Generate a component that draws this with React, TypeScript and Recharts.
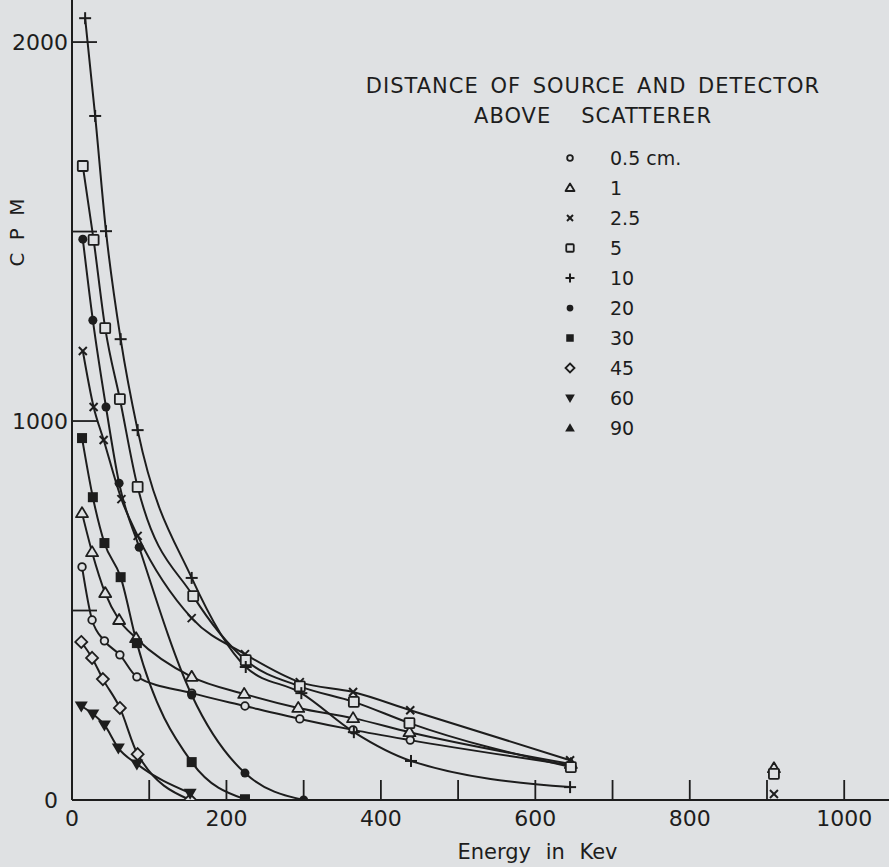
import React from 'react';
import { ComposedChart, Line, Scatter, XAxis, YAxis, Legend } from 'recharts';

// ---- data (Energy in keV, CPM) ----
const E_05 = [13, 26, 42, 62, 84, 155, 224, 295, 364, 438, 645];
const CPM_05 = [615, 475, 420, 383, 325, 282, 248, 214, 185, 158, 92];

const E_1 = [13, 26, 43, 61, 83, 155, 223, 293, 364, 437, 646];
const CPM_1 = [757, 654, 546, 475, 427, 325, 280, 243, 216, 179, 95];

const E_25 = [14, 28, 41, 64, 85, 155, 224, 295, 364, 438, 645];
const CPM_25 = [1185, 1037, 950, 794, 697, 480, 385, 311, 285, 237, 105];

const E_5 = [14, 28, 43, 62, 85, 157, 225, 295, 365, 437, 646];
const CPM_5 = [1673, 1478, 1245, 1058, 826, 538, 369, 300, 259, 203, 87];

const E_10 = [17, 30, 44, 63, 85, 155, 225, 297, 365, 439, 645];
const CPM_10 = [2063, 1805, 1501, 1216, 976, 586, 351, 282, 179, 103, 34];

const E_20 = [14, 27, 44, 61, 87, 155, 224, 300];
const CPM_20 = [1480, 1266, 1037, 836, 667, 277, 71, 0];

const E_30 = [13, 27, 42, 63, 84, 155, 224];
const CPM_30 = [955, 799, 678, 588, 414, 100, 2];

const E_45 = [12, 26, 40, 62, 85, 153];
const CPM_45 = [417, 375, 319, 243, 121, 0];

const E_60 = [12, 27, 42, 60, 84, 153];
const CPM_60 = [248, 227, 198, 137, 95, 18];

const E_90: number[] = [];
const CPM_90: number[] = [];

// isolated points near 906 keV (not joined to curves)
const FAR_KINDS = ['triangle', 'square', 'x'];
const FAR_E = [909, 909, 909];
const FAR_CPM = [84, 69, 16];

const LEGEND_LABELS = ['0.5 cm.', '1', '2.5', '5', '10', '20', '30', '45', '60', '90'];
const KINDS = ['circle', 'triangle', 'x', 'square', 'plus', 'dot', 'fsquare', 'diamond', 'down', 'up'];

const X_TICKS = [0, 100, 200, 300, 400, 500, 600, 700, 800, 900, 1000];
const X_LABELED = [0, 200, 400, 600, 800, 1000];
const Y_TICKS = [0, 500, 1000, 1500, 2000];
const Y_LABELED = [0, 1000, 2000];

const TITLE_1 = 'DISTANCE OF SOURCE AND DETECTOR';
const TITLE_2A = 'ABOVE';
const TITLE_2B = 'SCATTERER';

// ---- styling ----
const BG = '#dfe1e3';
const INK = '#1d1d1d';
const FONT = '"DejaVu Sans", sans-serif';

const toPts = (e: number[], c: number[]) => e.map((x, i) => ({ x, y: c[i] }));

const SERIES = [
  toPts(E_05, CPM_05),
  toPts(E_1, CPM_1),
  toPts(E_25, CPM_25),
  toPts(E_5, CPM_5),
  toPts(E_10, CPM_10),
  toPts(E_20, CPM_20),
  toPts(E_30, CPM_30),
  toPts(E_45, CPM_45),
  toPts(E_60, CPM_60),
  toPts(E_90, CPM_90),
];

function Marker({ kind, cx, cy, s = 1 }: { kind: string; cx: number; cy: number; s?: number }) {
  if (cx == null || cy == null || isNaN(cx) || isNaN(cy)) return null;
  const sw = 1.8;
  switch (kind) {
    case 'circle':
      return <circle cx={cx} cy={cy} r={3.8 * s} fill={BG} stroke={INK} strokeWidth={sw} />;
    case 'triangle': {
      const h = 10 * s, w = 12 * s;
      return (
        <polygon
          points={`${cx},${cy - h * 0.6} ${cx - w / 2},${cy + h * 0.4} ${cx + w / 2},${cy + h * 0.4}`}
          fill={BG} stroke={INK} strokeWidth={sw} strokeLinejoin="round"
        />
      );
    }
    case 'x': {
      const d = 4 * s;
      return (
        <g stroke={INK} strokeWidth={2}>
          <line x1={cx - d} y1={cy - d} x2={cx + d} y2={cy + d} />
          <line x1={cx - d} y1={cy + d} x2={cx + d} y2={cy - d} />
        </g>
      );
    }
    case 'square': {
      const d = 5 * s;
      return <rect x={cx - d} y={cy - d} width={2 * d} height={2 * d} rx={1} fill={BG} stroke={INK} strokeWidth={sw} />;
    }
    case 'plus': {
      const d = 6 * s;
      return (
        <g stroke={INK} strokeWidth={2}>
          <line x1={cx - d} y1={cy} x2={cx + d} y2={cy} />
          <line x1={cx} y1={cy - d} x2={cx} y2={cy + d} />
        </g>
      );
    }
    case 'dot':
      return <circle cx={cx} cy={cy} r={4.5 * s} fill={INK} />;
    case 'fsquare': {
      const d = 5 * s;
      return <rect x={cx - d} y={cy - d} width={2 * d} height={2 * d} fill={INK} />;
    }
    case 'diamond': {
      const d = 6 * s;
      return (
        <polygon
          points={`${cx},${cy - d} ${cx + d},${cy} ${cx},${cy + d} ${cx - d},${cy}`}
          fill={BG} stroke={INK} strokeWidth={sw}
        />
      );
    }
    case 'down': {
      const d = 6.5 * s;
      return <polygon points={`${cx - d},${cy - d * 0.7} ${cx + d},${cy - d * 0.7} ${cx},${cy + d}`} fill={INK} />;
    }
    case 'up': {
      const d = 6.5 * s;
      return <polygon points={`${cx - d},${cy + d * 0.7} ${cx + d},${cy + d * 0.7} ${cx},${cy - d}`} fill={INK} />;
    }
    default:
      return null;
  }
}

const YTick = (props: any) => {
  const { x, y, payload } = props;
  const v = payload.value;
  return (
    <g>
      {v !== 0 && <line x1={x} y1={y} x2={x + 25} y2={y} stroke={INK} strokeWidth={1.8} />}
      {Y_LABELED.includes(v) && (
        <text x={v === 0 ? x - 14 : x - 4} y={y} dy={8} textAnchor="end" fontSize={22} fontFamily={FONT} fill={INK}>
          {v}
        </text>
      )}
    </g>
  );
};

const XTick = (props: any) => {
  const { x, y, payload } = props;
  const v = payload.value;
  return (
    <g>
      {v !== 0 && <line x1={x} y1={y} x2={x} y2={y - 20} stroke={INK} strokeWidth={1.8} />}
      {X_LABELED.includes(v) && (
        <text x={x} y={y} dy={26} textAnchor="middle" fontSize={22} fontFamily={FONT} fill={INK}>
          {v}
        </text>
      )}
    </g>
  );
};

const YLabel = (props: any) => {
  const vb = props.viewBox || {};
  const cx = vb.x + 17;
  const cy = vb.y + 231;
  return (
    <text
      x={cx}
      y={cy}
      transform={`rotate(-90 ${cx} ${cy})`}
      textAnchor="middle"
      dominantBaseline="central"
      fontSize={20}
      fontFamily={FONT}
      fill={INK}
      style={{ letterSpacing: 3 }}
    >
      C P M
    </text>
  );
};

const LegendBox = () => (
  <div style={{ fontFamily: FONT, color: INK, width: 520 }}>
    <div style={{ textAlign: 'center', fontSize: 21, lineHeight: '30px', letterSpacing: 1, wordSpacing: 4 }}>
      <div>{TITLE_1}</div>
      <div>
        <span>{TITLE_2A}</span>
        <span style={{ display: 'inline-block', width: 30 }} />
        <span>{TITLE_2B}</span>
      </div>
    </div>
    <div style={{ marginTop: 12, marginLeft: 227 }}>
      {LEGEND_LABELS.map((lab, i) => (
        <div key={lab} style={{ display: 'flex', alignItems: 'center', height: 30 }}>
          <svg width={20} height={20} style={{ display: 'block' }}>
            <Marker kind={KINDS[i]} cx={10} cy={10} s={0.75} />
          </svg>
          <span style={{ marginLeft: 30, fontSize: 19 }}>{lab}</span>
        </div>
      ))}
    </div>
  </div>
);

export default function App() {
  return (
    <div style={{ position: 'absolute', left: 0, top: 0, width: 889, height: 867, background: BG }}>
      <ComposedChart width={889} height={867} margin={{ top: 0, right: 0, bottom: 0, left: 0 }}>
        <XAxis
          type="number"
          dataKey="x"
          domain={[0, 1058]}
          ticks={X_TICKS}
          tick={<XTick />}
          tickLine={false}
          tickSize={0}
          tickMargin={0}
          height={67}
          axisLine={{ stroke: INK, strokeWidth: 2 }}
          allowDataOverflow
          label={{ value: 'Energy in Kev', position: 'insideBottom', offset: 8, fontSize: 21, fontFamily: FONT, fill: INK, dx: 57, wordSpacing: 8 }}
        />
        <YAxis
          type="number"
          dataKey="y"
          domain={[0, 2111]}
          ticks={Y_TICKS}
          tick={<YTick />}
          tickLine={false}
          tickSize={0}
          tickMargin={0}
          width={72}
          axisLine={{ stroke: INK, strokeWidth: 2 }}
          allowDataOverflow
          label={<YLabel />}
        />
        <Legend
          layout="vertical"
          align="center"
          verticalAlign="middle"
          wrapperStyle={{ left: 333, top: 71, width: 520 }}
          content={() => <LegendBox />}
        />
        {SERIES.map((pts, i) =>
          pts.length ? (
            <Line
              key={LEGEND_LABELS[i]}
              data={pts}
              dataKey="y"
              type="monotone"
              stroke={INK}
              strokeWidth={2}
              isAnimationActive={false}
              dot={(p: any) => <Marker key={p.index} kind={KINDS[i]} cx={p.cx} cy={p.cy} />}
              activeDot={false}
              legendType="none"
            />
          ) : null
        )}
        {FAR_KINDS.map((k, i) => (
          <Scatter
            key={'far' + i}
            data={[{ x: FAR_E[i], y: FAR_CPM[i] }]}
            dataKey="y"
            isAnimationActive={false}
            shape={(p: any) => <Marker kind={k} cx={p.cx} cy={p.cy} />}
            legendType="none"
          />
        ))}
      </ComposedChart>
    </div>
  );
}
